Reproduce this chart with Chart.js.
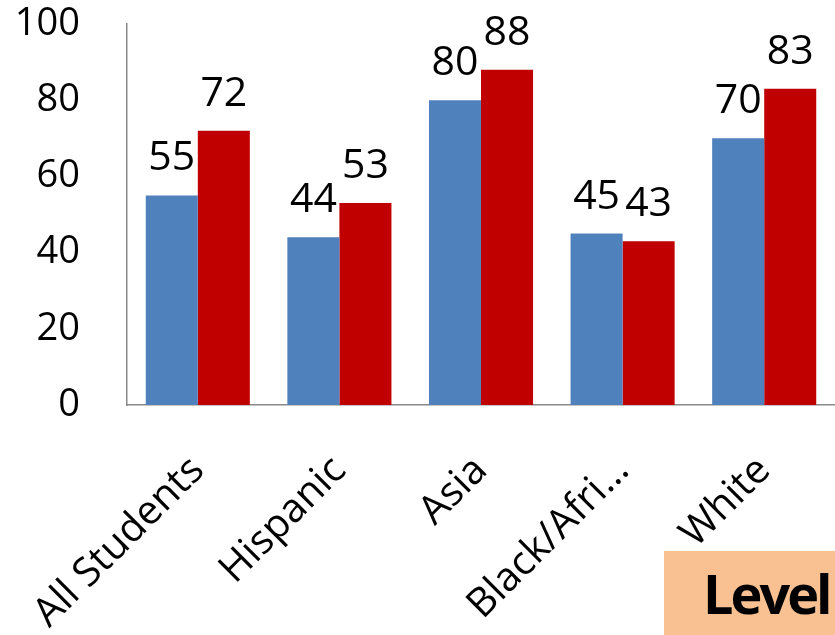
<!DOCTYPE html>
<html>
<head>
<meta charset="utf-8">
<script src="https://cdn.jsdelivr.net/npm/chart.js@4"></script>
<style>
    html, body { margin: 0; padding: 0; background: #ffffff; overflow: hidden; }
    #wrap { position: relative; width: 835px; height: 635px; overflow: hidden; }
    #levelBox {
        position: absolute;
        left: 664px;
        top: 551px;
        width: 200px;
        height: 84px;
        background: #F9C191;
        font-family: "Open Sans", sans-serif;
        font-weight: bold;
        font-size: 54px;
        letter-spacing: -3px;
        line-height: 84px;
        padding-left: 39px;
        box-sizing: border-box;
        color: #000000;
        white-space: nowrap;
    }
</style>
</head>
<body>
<div id="wrap">
    <canvas id="chart" width="835" height="635"></canvas>
    <div id="levelBox">Level</div>
</div>
<script>
const categories = ["All Students", "Hispanic", "Asia", "Black/Afri…", "White"];
const seriesA = [55, 44, 80, 45, 70];
const seriesB = [72, 53, 88, 43, 83];
const yTicks = [0, 20, 40, 60, 80, 100];

const FONT = "'Open Sans', sans-serif";

// numbers drawn above each bar
const valueLabels = {
    id: "valueLabels",
    afterDatasetsDraw(chart) {
        const ctx = chart.ctx;
        ctx.save();
        ctx.font = "41px " + FONT;
        ctx.fillStyle = "#000000";
        ctx.textAlign = "center";
        ctx.textBaseline = "alphabetic";
        chart.data.datasets.forEach((ds, i) => {
            chart.getDatasetMeta(i).data.forEach((bar, j) => {
                ctx.fillText(String(ds.data[j]), bar.x, bar.y - 25);
            });
        });
        ctx.restore();
    }
};

new Chart(document.getElementById("chart").getContext("2d"), {
    type: "bar",
    data: {
        labels: categories,
        datasets: [
            {
                label: "Series 1",
                data: seriesA,
                backgroundColor: "#4F81BD",
                borderWidth: 0
            },
            {
                label: "Series 2",
                data: seriesB,
                backgroundColor: "#C00000",
                borderWidth: 0
            }
        ]
    },
    options: {
        responsive: false,
        animation: false,
        layout: {
            padding: { top: 24, left: 0, right: 0, bottom: 0 }
        },
        datasets: {
            bar: {
                barPercentage: 1,
                categoryPercentage: 0.735
            }
        },
        plugins: {
            legend: { display: false },
            tooltip: { enabled: false }
        },
        scales: {
            y: {
                min: 0,
                max: 100,
                afterBuildTicks(scale) {
                    scale.ticks = yTicks.map(v => ({ value: v }));
                },
                afterFit(scale) {
                    scale.width = 127;
                    scale.paddingTop = 0;
                    scale.paddingBottom = 0;
                },
                grid: { display: false, drawTicks: false },
                border: { display: true, color: "#898989", width: 1.5 },
                ticks: {
                    color: "#000000",
                    font: { family: FONT, size: 38 },
                    padding: 47
                }
            },
            x: {
                afterFit(scale) {
                    scale.height = 230;
                    scale.paddingLeft = 0;
                    scale.paddingRight = 0;
                    scale.paddingTop = 0;
                    scale.paddingBottom = 0;
                },
                grid: { display: false, drawTicks: false },
                border: { display: true, color: "#898989", width: 1.5 },
                ticks: {
                    color: "#000000",
                    font: { family: FONT, size: 40 },
                    maxRotation: 45,
                    minRotation: 45,
                    autoSkip: false,
                    padding: 42
                }
            }
        }
    },
    plugins: [valueLabels]
});
</script>
</body>
</html>
